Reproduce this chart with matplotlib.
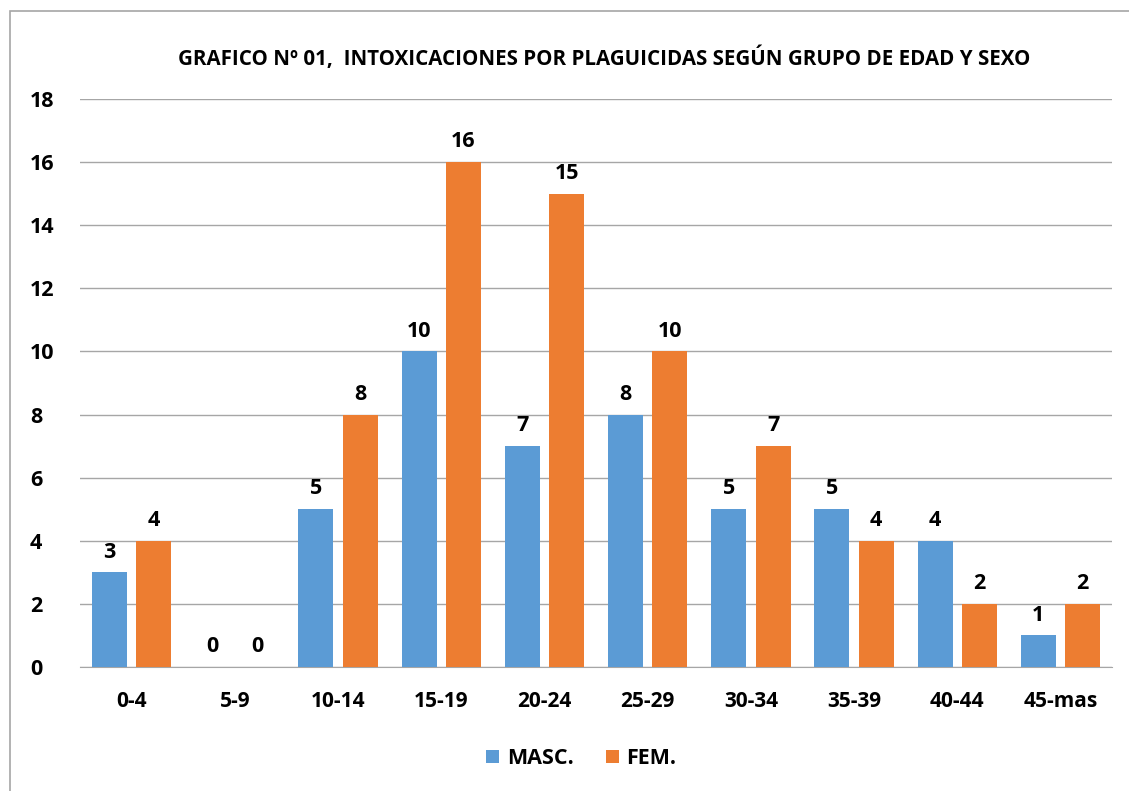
import numpy as np
import matplotlib.pyplot as plt
from matplotlib.patches import Rectangle

grupos = ["0-4", "5-9", "10-14", "15-19", "20-24", "25-29", "30-34", "35-39", "40-44", "45-mas"]
masc = [3, 0, 5, 10, 7, 8, 5, 5, 4, 1]
fem = [4, 0, 8, 16, 15, 10, 7, 4, 2, 2]
yticks = [0, 2, 4, 6, 8, 10, 12, 14, 16, 18]

AZUL = "#5B9BD5"
NARANJA = "#ED7D31"

plt.rcParams["font.family"] = ["Open Sans", "DejaVu Sans"]
plt.rcParams["font.weight"] = "bold"

fig = plt.figure(figsize=[11.29, 7.91], dpi=100)
ax = fig.add_axes([0.0709, 0.1568, 0.9141, 0.718])

# marco gris del grafico
fig.patches.append(Rectangle((10 / 1129, -0.2), 1.2, 1.2 - 11 / 791, transform=fig.transFigure,
                             fill=False, edgecolor="#A6A6A6", lw=1.2, clip_on=False))

x = np.arange(len(grupos))
w = 0.34
b1 = ax.bar(x - 0.215, masc, w, color=AZUL, label="MASC.", zorder=3)
b2 = ax.bar(x + 0.215, fem, w, color=NARANJA, label="FEM.", zorder=3)

for bars, vals in ((b1, masc), (b2, fem)):
    for rect, v in zip(bars, vals):
        ax.annotate(str(v), (rect.get_x() + rect.get_width() / 2, v), xytext=(0, 7),
                    textcoords="offset points", ha="center", va="bottom",
                    fontsize=15.5, fontweight="bold")

ax.set_xlim(-0.5, len(grupos) - 0.5)
ax.set_ylim(0, 18)
ax.set_yticks(yticks)
ax.set_xticks(x)
ax.set_xticklabels(grupos)
ax.tick_params(axis="x", length=0, labelsize=15, pad=17)
ax.tick_params(axis="y", length=0, labelsize=15.5, pad=36)
for lab in ax.get_yticklabels():
    lab.set_horizontalalignment("left")
ax.yaxis.grid(True, color="#A6A6A6", lw=1, zorder=0)
for s in ("top", "right", "left"):
    ax.spines[s].set_visible(False)
ax.spines["bottom"].set_color("#A6A6A6")

fig.text(0.535, 0.926, "GRAFICO Nº 01,  INTOXICACIONES POR PLAGUICIDAS SEGÚN GRUPO DE EDAD Y SEXO",
         ha="center", va="center", fontsize=14.8, fontweight="bold")

fig.legend(handles=[b1, b2], loc="center", bbox_to_anchor=(0.515, 0.041), ncol=2, frameon=False,
           fontsize=15.5, handlelength=0.6, handleheight=0.6, handletextpad=0.35, columnspacing=1.5)

fig.savefig("out.png", dpi=100)
